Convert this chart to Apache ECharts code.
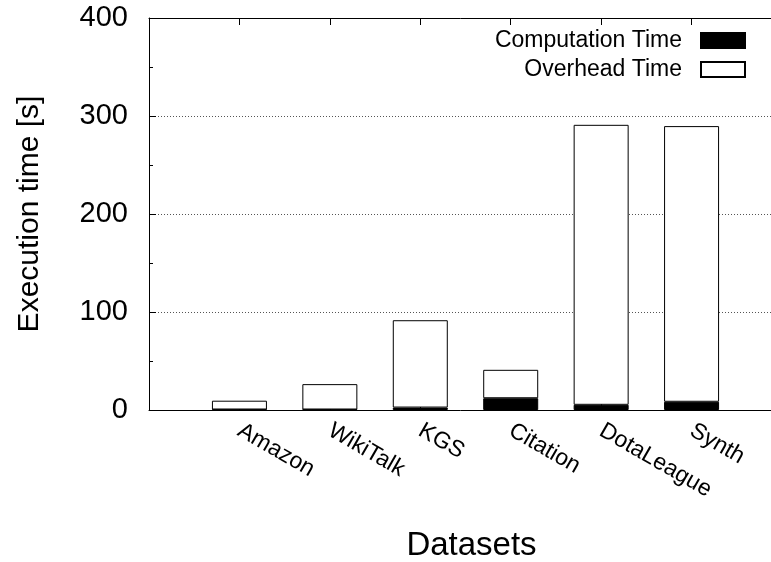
<!DOCTYPE html>
<html><head><meta charset="utf-8">
<script src="https://cdn.jsdelivr.net/npm/echarts@6/dist/echarts.min.js"></script>
<style>html,body{margin:0;padding:0;background:#fff}#c{width:771px;height:562px}</style>
</head><body><div id="c"></div>
<script>
const categories = ['Amazon', 'WikiTalk', 'KGS', 'Citation', 'DotaLeague', 'Synth'];
const computationTime = [0.5, 0.5, 2.5, 12.0, 5.3, 8.4];
const overheadTime = [9.0, 25.9, 89.1, 29.0, 285.7, 281.3];
const yTickValues = [0, 100, 200, 300, 400];

const FONT = 'Liberation Sans, Arial, Helvetica, sans-serif';
const axisCats = [''].concat(categories, ['']);
const pad = arr => ['-'].concat(arr, ['-']);

const chart = echarts.init(document.getElementById('c'), null, {renderer: 'canvas'});
chart.setOption({
  animation: false,
  backgroundColor: '#fff',
  textStyle: {fontFamily: FONT, color: '#000'},
  grid: {left: 149, width: 633, top: 18, height: 392, containLabel: false, outerBoundsMode: 'none'},
  legend: {
    data: ['Computation Time', 'Overhead Time'],
    orient: 'vertical', right: 25, top: 29, padding: 0,
    itemWidth: 44, itemHeight: 15, itemGap: 6, align: 'right',
    icon: 'rect',
    selectedMode: false,
    textStyle: {fontFamily: FONT, fontSize: 23, color: '#000', padding: [0, 14, 0, 0]}
  },
  xAxis: [{
    type: 'category', data: axisCats, boundaryGap: false, position: 'bottom',
    axisLine: {lineStyle: {color: '#000', width: 1}},
    axisTick: {inside: true, length: 7, lineStyle: {color: '#000'}},
    axisLabel: {rotate: -30, fontSize: 23, margin: 19, color: '#000', interval: 0, fontFamily: FONT},
    splitLine: {show: false},
    name: 'Datasets', nameLocation: 'middle', nameGap: 119,
    nameTextStyle: {fontSize: 33, color: '#000', fontFamily: FONT, padding: [0, 0, 0, 12]}
  }, {
    type: 'category', data: axisCats, boundaryGap: false, position: 'top',
    axisLine: {lineStyle: {color: '#000', width: 1}},
    axisTick: {inside: true, length: 7, lineStyle: {color: '#000'}},
    axisLabel: {show: false},
    splitLine: {show: false}
  }],
  yAxis: {
    type: 'value', min: yTickValues[0], max: yTickValues[yTickValues.length - 1], interval: 100,
    axisLine: {show: true, lineStyle: {color: '#000', width: 1}},
    axisTick: {show: true, inside: true, length: 7, lineStyle: {color: '#000'}},
    minorTick: {show: true, splitNumber: 2, length: 4, lineStyle: {color: '#000'}},
    splitLine: {show: true, lineStyle: {color: '#555', type: [1, 2], width: 1}},
    axisLabel: {fontSize: 29, margin: 21, color: '#000', fontFamily: FONT},
    name: 'Execution time [s]', nameLocation: 'middle', nameGap: 104, nameRotate: 90,
    nameTextStyle: {fontSize: 30, color: '#000', fontFamily: FONT}
  },
  series: [{
    type: 'bar', name: 'Computation Time', stack: 'total', data: pad(computationTime),
    barWidth: 55, itemStyle: {color: '#000', borderColor: '#000', borderWidth: 1}
  }, {
    type: 'bar', name: 'Overhead Time', stack: 'total', data: pad(overheadTime),
    barWidth: 55, itemStyle: {color: '#fff', borderColor: '#000', borderWidth: 1}
  }]
});
</script></body></html>
